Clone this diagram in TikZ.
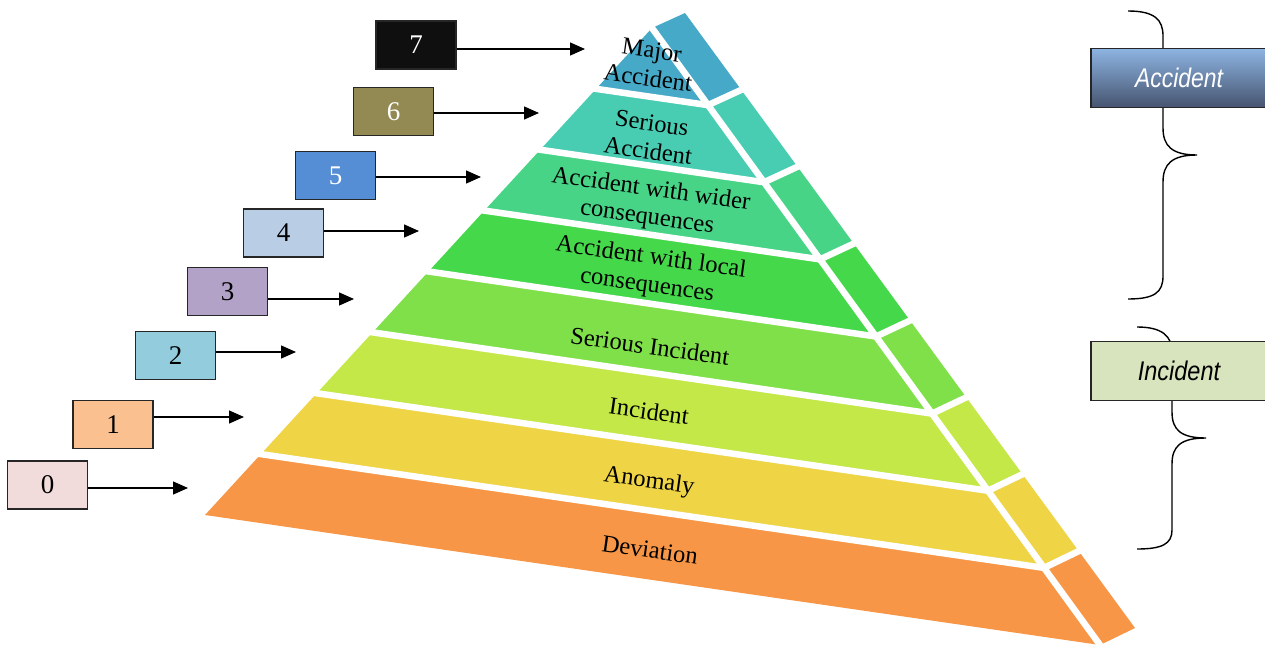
\documentclass[tikz,border=0pt]{standalone}
\usepackage{fontspec}
\setmainfont{Liberation Serif}
\newfontfamily\labfont{Liberation Sans}
\usetikzlibrary{calc,arrows.meta,shapes.geometric}
\definecolor{cDev}{HTML}{F79646}
\definecolor{cAno}{HTML}{EFD445}
\definecolor{cInc}{HTML}{C3E847}
\definecolor{cSInc}{HTML}{80E04A}
\definecolor{cLoc}{HTML}{45D84B}
\definecolor{cWid}{HTML}{48D487}
\definecolor{cSAcc}{HTML}{48CDB3}
\definecolor{cMaj}{HTML}{47A9C8}
\definecolor{b0}{HTML}{F2DCDB}
\definecolor{b1}{HTML}{FAC090}
\definecolor{b2}{HTML}{93CDDD}
\definecolor{b3}{HTML}{B3A2C7}
\definecolor{b4}{HTML}{B9CDE5}
\definecolor{b5}{HTML}{558ED5}
\definecolor{b6}{HTML}{938953}
\definecolor{b7}{HTML}{0F0F0F}
\definecolor{accTop}{HTML}{8DB4E2}
\definecolor{accBot}{HTML}{46546F}
\definecolor{incFill}{HTML}{D7E4BD}
\tikzset{
  numbox/.style={draw=black!85, line width=1.3pt, minimum width=80pt, minimum height=48pt,
    inner sep=0pt, font=\fontsize{27}{27}\selectfont},
  arr/.style={line width=1.3pt, -{Triangle[length=15pt,width=13pt]}},
  gap/.style={white, line width=6.5pt, line join=round},
  lay/.style={align=center, rotate=-8, font=\fontsize{24.5}{28}\selectfont, inner sep=0pt, text=black},
  brace/.style={line width=1.4pt},
  catbox/.style={draw=black!85, line width=1.4pt, minimum width=176pt, minimum height=59pt, inner sep=0pt,
    font=\labfont\itshape\fontsize{27}{27}\selectfont}
}
\begin{document}
\begin{tikzpicture}[x=1pt,y=-1pt]
\useasboundingbox (0,0) rectangle (1265,647);
% pyramid geometry
\coordinate (A) at (652,28);
\coordinate (L) at (205,515);
\coordinate (R) at (1100,645);
\coordinate (B) at (685,13);
\coordinate (BB) at (1135,628);
\foreach \k in {0,...,8}{
  \coordinate (l\k) at ($(A)!\k/8!(L)$);
  \coordinate (r\k) at ($(A)!\k/8!(R)$);
  \coordinate (b\k) at ($(B)!\k/8!(BB)$);
}
\foreach \j/\c [evaluate=\j as \jn using int(\j+1)] in {0/cMaj,1/cSAcc,2/cWid,3/cLoc,4/cSInc,5/cInc,6/cAno,7/cDev}{
  \fill[\c] (l\j) -- (r\j) -- (r\jn) -- (l\jn) -- cycle;
  \fill[\c] (r\j) -- (b\j) -- (b\jn) -- (r\jn) -- cycle;
}
\draw[gap, shorten <=-8pt, shorten >=-8pt] (A) -- (R);
\foreach \k in {1,...,7}{
  \draw[gap, shorten <=-8pt, shorten >=-8pt] (l\k) -- (r\k) -- (b\k);
}
% layer labels
\node[lay] (t7) at (650,64) {Major\\Accident};
\node[lay] (t6) at (650,137) {Serious\\Accident};
\node[lay] (t5) at (649,204) {Accident with wider\\consequences};
\node[lay] (t4) at (649,272) {Accident with local\\consequences};
\node[lay] (t3) at (650,346) {Serious Incident};
\node[lay] (t2) at (649,411) {Incident};
\node[lay] (t1) at (649,482) {Anomaly};
\node[lay] (t0) at (650,550) {Deviation};
% number boxes
\node[numbox, fill=b7, text=white] (n7) at (416,45) {7};
\node[numbox, fill=b6, text=white] (n6) at (393.5,111.5) {6};
\node[numbox, fill=b5, text=white] (n5) at (335.5,175.5) {5};
\node[numbox, fill=b4] (n4) at (283.5,233) {4};
\node[numbox, fill=b3] (n3) at (227.5,291.5) {3};
\node[numbox, fill=b2] (n2) at (175.5,355.5) {2};
\node[numbox, fill=b1] (n1) at (113,424.5) {1};
\node[numbox, fill=b0] (n0) at (47.5,485) {0};
\coordinate (p7) at (585,49);
\coordinate (p6) at (539,113);
\coordinate (p5) at (481,177);
\coordinate (p4) at (419,231);
\coordinate (p3) at (354,299);
\coordinate (p2) at (296,352);
\coordinate (p1) at (244,417);
\coordinate (p0) at (188,488);
\foreach \k in {0,...,7}{
  \draw[arr] (n\k.east |- p\k) -- (p\k);
}
% braces
\draw[brace] (1128,11) .. controls (1155,11) and (1163,20) .. (1163,36) -- (1163,128)
  .. controls (1163,146) and (1172,155) .. (1197,155)
  .. controls (1172,155) and (1163,164) .. (1163,182) -- (1163,276)
  .. controls (1163,292) and (1155,299) .. (1128,299);
\draw[brace] (1137,327) .. controls (1162,327) and (1172,336) .. (1172,352) -- (1172,412)
  .. controls (1172,430) and (1181,438) .. (1206,438)
  .. controls (1181,438) and (1172,446) .. (1172,464) -- (1172,530)
  .. controls (1172,544) and (1162,549) .. (1137,549);
% category boxes
\node[catbox, top color=accTop, bottom color=accBot, text=white] (acc) at (1179,78) {\scalebox{0.85}[1]{Accident}};
\node[catbox, fill=incFill, text=black] (inc) at (1179,371) {\scalebox{0.87}[1]{Incident}};
\end{tikzpicture}
\end{document}
